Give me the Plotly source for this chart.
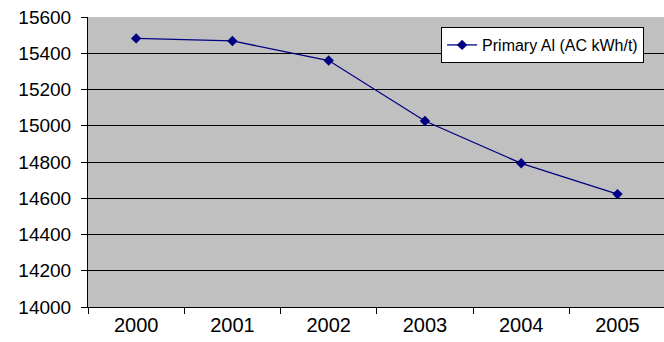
import plotly.graph_objects as go

years = ["2000", "2001", "2002", "2003", "2004", "2005"]
primary_al = [15482, 15468, 15360, 15026, 14793, 14623]
series_name = "Primary Al (AC kWh/t)"
y_ticks = [14000, 14200, 14400, 14600, 14800, 15000, 15200, 15400, 15600]

fig = go.Figure()
fig.add_trace(go.Scatter(
    x=years, y=primary_al, name=series_name, mode="lines+markers",
    line=dict(color="#000080", width=1.3),
    marker=dict(symbol="diamond", size=8, color="#000080"),
    showlegend=True,
))

font = "Arial, Liberation Sans, sans-serif"
fig.update_layout(
    width=664, height=342,
    margin=dict(l=88, r=0, t=17, b=35),
    paper_bgcolor="white",
    plot_bgcolor="#C0C0C0",
    font=dict(family=font, size=19, color="black"),
    xaxis=dict(
        type="category", range=[-0.5, 5.483],
        tickson="boundaries", ticks="outside", ticklen=6, tickcolor="black",
        showgrid=False, showline=True, linecolor="black", linewidth=1,
        tickfont=dict(size=20), zeroline=False,
    ),
    yaxis=dict(
        range=[14000, 15600], tickvals=y_ticks, tickformat="d",
        ticks="outside", ticklen=6,
        tickcolor="black", showgrid=True, gridcolor="black", gridwidth=1,
        showline=True, linecolor="black", linewidth=1, zeroline=False,
        tickfont=dict(size=19), ticklabelstandoff=6,
    ),
    legend=dict(
        x=0.613, y=0.9655, xanchor="left", yanchor="top",
        bgcolor="white", bordercolor="black", borderwidth=1,
        font=dict(size=16, family=font),
    ),
)

fig.write_html("out.html")
